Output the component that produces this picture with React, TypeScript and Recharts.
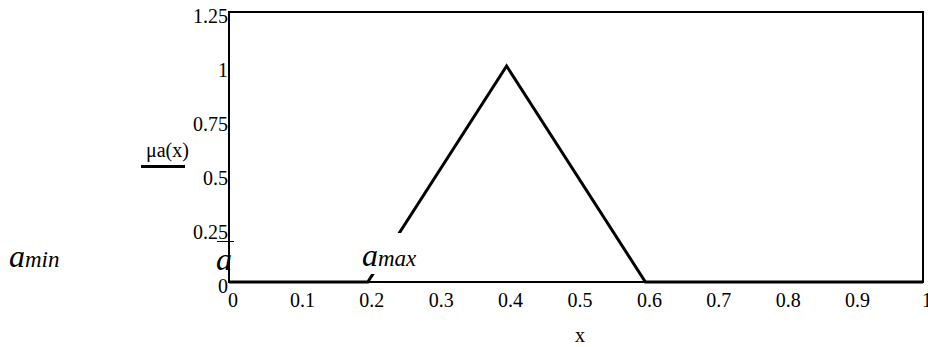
import { LineChart, Line, XAxis, YAxis, ReferenceArea } from "recharts";

const xValues = [0, 0.2, 0.4, 0.6, 1];
const muValues = [0, 0, 1, 0, 0];
const xTicks = [0, 0.1, 0.2, 0.3, 0.4, 0.5, 0.6, 0.7, 0.8, 0.9, 1];
const yTicks = [0, 0.25, 0.5, 0.75, 1, 1.25];

const data = xValues.map((x, i) => ({ x, mu: muValues[i] }));

const serif = "Liberation Serif, Times New Roman, serif";

export default function App() {
  const italic = { fontFamily: serif, fontStyle: "italic" as const, color: "#000", position: "absolute" as const, lineHeight: 1, whiteSpace: "nowrap" as const };
  return (
    <div style={{ position: "absolute", left: 0, top: 0, width: 928, height: 347, background: "#fff", overflow: "hidden" }}>
      <LineChart width={928} height={347} data={data} margin={{ top: 12, right: 5, bottom: 0, left: 0 }}>
        <XAxis
          dataKey="x"
          type="number"
          domain={[0, 1]}
          ticks={xTicks}
          height={65}
          axisLine={false}
          tickLine={false}
          tickSize={0}
          tickMargin={11}
          tick={{ fill: "#000", fontSize: 20, fontFamily: serif, dx: 4 }}
          interval={0}
        />
        <YAxis
          type="number"
          domain={[0, 1.25]}
          ticks={yTicks}
          width={229}
          axisLine={false}
          tickLine={false}
          tickSize={0}
          tickMargin={1}
          tick={{ fill: "#000", fontSize: 20, fontFamily: serif, dy: 4 }}
          interval={0}
        />
        <ReferenceArea x1={0} x2={1} y1={0} y2={1.25} fill="none" fillOpacity={0} stroke="#000" strokeWidth={2} />
        <Line dataKey="mu" stroke="#000" strokeWidth={3} dot={false} isAnimationActive={false} />
      </LineChart>

      {/* y label with bar */}
      <div style={{ position: "absolute", left: 146, top: 140, fontFamily: serif, fontSize: 20, lineHeight: 1, color: "#000" }}>μa(x)</div>
      <div style={{ position: "absolute", left: 141, top: 165, width: 44, height: 3, background: "#000" }} />

      {/* x label */}
      <div style={{ position: "absolute", left: 575, top: 325, fontFamily: serif, fontSize: 20, lineHeight: 1, color: "#000" }}>x</div>

      {/* a_min */}
      <div style={{ ...italic, left: 9, top: 240, fontSize: 32 }}>
        a<span style={{ fontSize: 23 }}>min</span>
      </div>

      {/* lone a with small bar */}
      <div style={{ position: "absolute", left: 217, top: 241, width: 17, height: 1, background: "#000" }} />
      <div style={{ ...italic, left: 216, top: 243, fontSize: 32 }}>a</div>

      {/* a_max with white box */}
      <div style={{ position: "absolute", left: 362, top: 233, width: 58, height: 41, background: "#fff" }} />
      <div style={{ ...italic, left: 362, top: 239, fontSize: 32 }}>
        a<span style={{ fontSize: 23 }}>max</span>
      </div>
    </div>
  );
}
